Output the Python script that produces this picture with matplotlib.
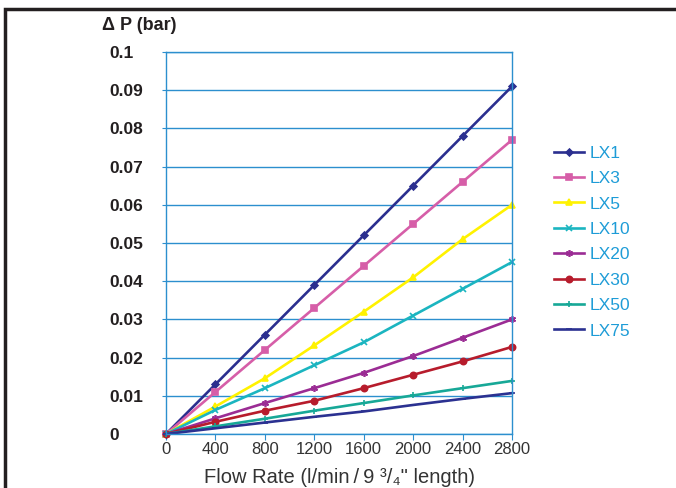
import matplotlib
matplotlib.use("Agg")
import matplotlib.pyplot as plt
from matplotlib.patches import Rectangle

plt.rcParams['font.family'] = ['Liberation Sans', 'DejaVu Sans']

# flow rate (l/min)
flow = [0, 400, 800, 1200, 1600, 2000, 2400, 2800]

# pressure drop (bar) per filter
lx1 = [0, 0.013, 0.026, 0.039, 0.052, 0.065, 0.078, 0.091]
lx3 = [0, 0.011, 0.022, 0.033, 0.044, 0.055, 0.066, 0.077]
lx5 = [0, 0.0072, 0.0146, 0.0232, 0.032, 0.041, 0.051, 0.060]
lx10 = [0, 0.0063, 0.012, 0.018, 0.024, 0.031, 0.038, 0.045]
lx20 = [0, 0.0041, 0.0081, 0.012, 0.016, 0.0204, 0.0252, 0.030]
lx30 = [0, 0.0032, 0.0061, 0.0087, 0.012, 0.0155, 0.019, 0.0228]
lx50 = [0, 0.002, 0.004, 0.0061, 0.0081, 0.0101, 0.012, 0.0139]
lx75 = [0, 0.0015, 0.003, 0.0045, 0.0059, 0.0076, 0.0092, 0.0107]

names = ['LX1', 'LX3', 'LX5', 'LX10', 'LX20', 'LX30', 'LX50', 'LX75']
series = [lx1, lx3, lx5, lx10, lx20, lx30, lx50, lx75]

# look of each series: colour, marker, marker size
styles = [
    ('#2B2F8F', 'D', 3.5),
    ('#D65EA8', 's', 4.5),
    ('#FFF200', '^', 5),
    ('#1BB5C0', 'x', 4),
    ('#9B2C94', (6, 2, 0), 5),
    ('#B71C2C', 'o', 4.5),
    ('#17A897', '+', 5),
    ('#2B3191', '_', 4),
]

grid_blue = '#2C8FCE'
text_dark = '#231F20'

fig = plt.figure(figsize=(6.76, 4.88), dpi=100, facecolor='white')
ax = fig.add_axes([166 / 676, 1 - 434 / 488, 346 / 676, 382 / 488])

for vals, name, (col, mk, ms) in zip(series, names, styles):
    ax.plot(flow, vals, color=col, lw=1.9, marker=mk, ms=ms,
            mew=1.2, label=name, clip_on=False)

ax.set_xlim(0, 2800)
ax.set_ylim(0, 0.1)
ax.set_xticks(flow)
ax.set_yticks([i / 100 for i in range(11)])
ax.set_yticklabels(['0', '0.01', '0.02', '0.03', '0.04', '0.05', '0.06',
                    '0.07', '0.08', '0.09', '0.1'],
                   fontweight='bold', fontsize=12.5, color=text_dark, ha='left')
ax.set_xticklabels([str(v) for v in flow], fontsize=12, color='#333333')
ax.tick_params(axis='y', colors=grid_blue, length=3, pad=37.5, labelcolor=text_dark)
ax.tick_params(axis='x', colors=grid_blue, length=4, pad=2, labelcolor='#333333')

ax.yaxis.grid(True, color=grid_blue, lw=1.0)
ax.set_axisbelow(True)
for side in ['left', 'right', 'bottom', 'top']:
    ax.spines[side].set_color(grid_blue)
    ax.spines[side].set_linewidth(1.0)

ax.set_xlabel('Flow Rate (l/min\u2009/\u20099 \u00b3/\u2084" length)', fontsize=14.5,
              color='#333333', labelpad=8)
fig.text(139 / 676, 1 - 25 / 488, '\u0394 P (bar)', fontsize=13,
         fontweight='bold', color=text_dark, ha='center', va='center')

leg = ax.legend(loc='upper left', bbox_to_anchor=(538 / 676, 1 - 130 / 488),
                bbox_transform=fig.transFigure, frameon=False, fontsize=12.5,
                handlelength=1.75, labelspacing=0.59, handletextpad=0.3)
for t in leg.get_texts():
    t.set_color('#1E9CD7')

# outer frame, cut off at the right and bottom edges
fig.patches.append(Rectangle((4.5 / 676, -0.2), 1.2, 1.2 - 9 / 488,
                             transform=fig.transFigure, fill=False,
                             ec=text_dark, lw=2.5))

fig.savefig('out.png', dpi=100)
